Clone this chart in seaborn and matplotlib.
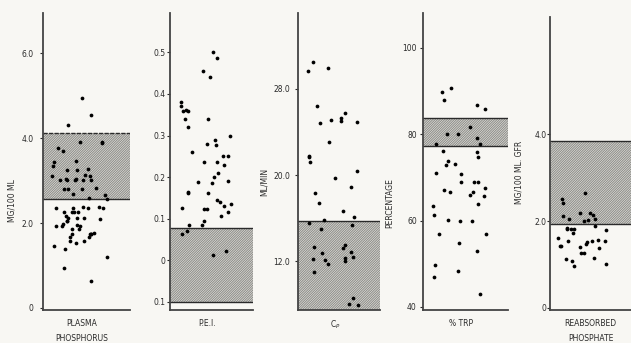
import numpy as np
import pandas as pd
import matplotlib
matplotlib.use("Agg")
import matplotlib.pyplot as plt
import seaborn as sns

# values
plasma_phosphorus = [4.94, 4.54, 4.32, 3.90, 3.92, 3.88, 3.76, 3.70, 3.45, 3.46, 3.34,
                     3.26, 3.27, 3.25, 3.12, 3.13, 3.11, 3.02, 3.03, 3.01, 3.02, 3.02,
                     3.03, 3.01, 2.81, 2.82, 2.80, 2.81, 2.68, 2.67, 2.57, 2.58,
                     2.36, 2.37, 2.35, 2.36, 2.36, 2.37, 2.26, 2.27, 2.25, 2.26, 2.17,
                     2.11, 2.12, 2.10, 2.11, 2.04, 2.05, 1.96, 1.97, 1.93, 1.94, 1.92,
                     1.86, 1.87, 1.75, 1.76, 1.74, 1.75, 1.74, 1.68, 1.66, 1.57, 1.58,
                     1.54, 1.45, 1.39, 1.21, 0.93, 0.64]
pei = [0.50, 0.486, 0.456, 0.442, 0.38, 0.37, 0.36, 0.361, 0.359, 0.34, 0.341, 0.32,
       0.30, 0.29, 0.28, 0.278, 0.26, 0.25, 0.251, 0.236, 0.237, 0.23, 0.21, 0.20,
       0.19, 0.186, 0.187, 0.162, 0.163, 0.161, 0.146, 0.14, 0.136, 0.13, 0.124,
       0.125, 0.123, 0.116, 0.106, 0.095, 0.084, 0.085, 0.069, 0.064, 0.023, 0.013]
cp = [30.5, 29.9, 29.6, 26.4, 25.7, 25.3, 25.1, 24.8, 25.0, 24.9, 23.1, 21.8, 21.7,
      21.2, 20.4, 19.7, 18.9, 18.3, 17.4, 16.7, 16.1, 15.8, 15.6, 15.4, 15.0, 13.5,
      13.3, 13.2, 12.9, 12.3, 12.1, 12.0, 12.2, 12.8, 11.8, 12.4, 11.0, 8.6, 8.1, 8.0]
trp = [90.7, 89.7, 87.8, 86.8, 85.7, 81.7, 80.0, 80.1, 79.0, 77.7, 77.8, 76.0, 75.8,
       74.8, 73.7, 72.9, 73.0, 70.8, 70.9, 69.0, 68.8, 68.9, 67.1, 67.6, 66.7, 66.6,
       65.7, 65.8, 63.9, 63.4, 61.3, 60.0, 60.1, 59.9, 56.8, 56.9, 54.7, 53.0, 49.8,
       48.4, 47.0, 43.0]
reabsorbed = [2.65, 2.50, 2.42, 2.19, 2.12, 2.04, 2.00, 2.02, 2.15, 2.05, 2.18, 1.88,
              1.85, 1.81, 1.80, 1.82, 1.81, 1.73, 1.52, 1.62, 1.42, 1.46, 1.55, 1.56,
              1.54, 1.53, 1.38, 1.27, 1.43, 1.26, 1.41, 1.15, 1.12, 1.08, 1.00, 0.96]

# normal ranges (hatched bands)
band_low = [2.57, -0.10, 7.5, 77.2, 1.92]
band_high = [4.12, 0.078, 15.7, 83.7, 3.85]

series = [plasma_phosphorus, pei, cp, trp, reabsorbed]
xlabels = ["PLASMA\nPHOSPHORUS", "P.E.I.", "C$_P$", "% TRP", "REABSORBED\nPHOSPHATE"]
ylabels = ["MG/100 ML", "", "ML/MIN", "PERCENTAGE", "MG/100 ML. GFR"]
ytick_vals = [[0, 2, 4, 6], [-0.1, 0, 0.1, 0.2, 0.3, 0.4, 0.5], [12, 20, 28],
              [40, 60, 80, 100], [0, 2, 4]]
ytick_text = [["0", "2.0", "4.0", "6.0"], ["0.1", "0", "0.1", "0.2", "0.3", "0.4", "0.5"],
              ["12.0", "20.0", "28.0"], ["40", "60", "80", "100"], ["0", "2.0", "4.0"]]
ylims = [(-0.05, 6.95), (-0.12, 0.595), (7.5, 35.0), (39.3, 108.0), (-0.05, 6.7)]

sns.set_style("white")
plt.rcParams["font.family"] = ["DejaVu Sans"]
plt.rcParams["hatch.linewidth"] = 0.7

paper = "#f8f7f3"
ink = "#2a2a2a"
fig = plt.figure(figsize=(6.31, 3.43), dpi=100, facecolor=paper)

# axes boxes in figure pixels: left, right, top
boxes = [(43, 130, 13), (170, 253, 13), (298, 380, 13), (423, 508, 13), (550, 640, 17)]
ylab_pos = [(-0.30, 0.37), (0, 0), (-0.36, 0.43), (-0.34, 0.36), (-0.29, 0.47)]
tick_pad = [5, 1.5, 3.5, 2.5, 0.5]
W, H = 631, 343
bottom = 310

np.random.seed(3)
for i, vals in enumerate(series):
    l, r, t = boxes[i]
    ax = fig.add_axes([l / W, 1 - bottom / H, (r - l) / W, (bottom - t) / H])
    ax.set_facecolor(paper)
    ax.axhspan(band_low[i], band_high[i], facecolor="#e2e1dc", edgecolor="#8a8a86",
               hatch="/" * 14, linewidth=0, zorder=1)
    ax.axhline(band_high[i], color=ink, lw=1.0, ls=(0, (3, 1)) if i == 0 else "-", zorder=2)
    ax.axhline(band_low[i], color=ink, lw=1.0, zorder=2)
    df = pd.DataFrame({"v": vals, "g": 0})
    sns.stripplot(data=df, x="g", y="v", ax=ax, jitter=0.33, color="black", size=2.7,
                  linewidth=0, zorder=3)
    ax.set_xlim(-0.42, 0.58)
    ax.set_ylim(*ylims[i])
    ax.set_xticks([])
    ax.set_yticks(ytick_vals[i])
    ax.set_yticklabels(ytick_text[i])
    ax.tick_params(axis="y", left=True, length=2, width=0.8, pad=tick_pad[i],
                   labelsize=5.5, colors=ink)
    for s in ["top", "right"]:
        ax.spines[s].set_visible(False)
    for s in ["left", "bottom"]:
        ax.spines[s].set_color("#444444")
        ax.spines[s].set_linewidth(1.3)
    ax.set_xlabel(xlabels[i], fontsize=5.5, color=ink, linespacing=1.9)
    ax.xaxis.set_label_coords(0.45, -0.03)
    ax.xaxis.label.set_va("top")
    ax.set_ylabel(ylabels[i], fontsize=5.5, color=ink)
    ax.yaxis.set_label_coords(*ylab_pos[i])

fig.savefig("out.png", dpi=100, facecolor=paper)
